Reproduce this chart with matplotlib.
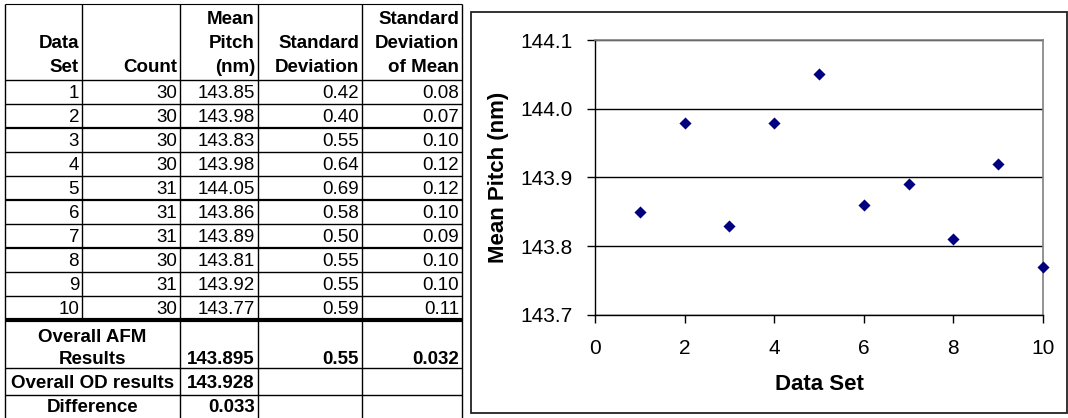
import matplotlib
matplotlib.use("Agg")
import matplotlib.pyplot as plt
from matplotlib.lines import Line2D

plt.rcParams['font.family'] = ['Liberation Sans', 'DejaVu Sans']

# ---------------- data ----------------
data_set = [1, 2, 3, 4, 5, 6, 7, 8, 9, 10]
count = [30, 30, 30, 30, 31, 31, 31, 30, 31, 30]
mean_pitch = [143.85, 143.98, 143.83, 143.98, 144.05, 143.86, 143.89, 143.81, 143.92, 143.77]
std_dev = [0.42, 0.40, 0.55, 0.64, 0.69, 0.58, 0.50, 0.55, 0.55, 0.59]
std_dev_mean = [0.08, 0.07, 0.10, 0.12, 0.12, 0.10, 0.09, 0.10, 0.10, 0.11]
header_lines = [
    ["", "Data", "Set"],
    ["", "", "Count"],
    ["Mean", "Pitch", "(nm)"],
    ["", "Standard", "Deviation"],
    ["Standard", "Deviation", "of Mean"],
]
overall_afm = ["143.895", "0.55", "0.032"]
overall_od = "143.928"
difference = "0.033"
y_ticks = [143.7, 143.8, 143.9, 144.0, 144.1]
x_ticks = [0, 2, 4, 6, 8, 10]

W, H = 1068, 418
fig = plt.figure(figsize=(W / 100, H / 100), dpi=100)

# ---------------- table (pixel-space axes) ----------------
tab = fig.add_axes([0, 0, 1, 1])
tab.set_xlim(0, W)
tab.set_ylim(H, 0)
tab.axis('off')

col_x = [5, 82, 180, 258, 362, 462]
top = 4
hdr_bottom = 80
row_h = 24
rows_bottom = hdr_bottom + row_h * len(data_set)
afm_bottom = 368
od_bottom = 395
tab_bottom = 420
fs = 13.5
pad = 3

def hline(y, x0, x1, lw=1.0):
    tab.add_line(Line2D([x0, x1], [y, y], color='black', lw=lw, solid_capstyle='butt'))

def vline(x, y0, y1, lw=1.0):
    tab.add_line(Line2D([x, x], [y0, y1], color='black', lw=lw, solid_capstyle='butt'))

# horizontal lines
hline(top, col_x[0], col_x[-1], 0.8)
hline(hdr_bottom, col_x[0], col_x[-1], 1.0)
thick_after = {2: 1.6, 5: 1.6, 7: 1.6}
for i in range(1, len(data_set)):
    hline(hdr_bottom + row_h * i, col_x[0], col_x[-1], thick_after.get(i, 1.0))
hline(rows_bottom, col_x[0], col_x[-1], 3.0)
hline(afm_bottom, col_x[0], col_x[-1], 1.0)
hline(od_bottom, col_x[0], col_x[-1], 1.0)

# vertical lines
for j, x in enumerate(col_x):
    if j == 1:
        vline(x, top, rows_bottom)
    else:
        vline(x, top, tab_bottom)

# header
hdr_y = [20, 43.5, 67]
for j, lines in enumerate(header_lines):
    for k, t in enumerate(lines):
        if t:
            tab.text(col_x[j + 1] - pad, hdr_y[k], t, ha='right', va='center',
                     fontsize=fs, fontweight='bold')

# data rows
for i in range(len(data_set)):
    yc = hdr_bottom + row_h * (i + 0.5) + 1
    vals = [str(data_set[i]), str(count[i]), f"{mean_pitch[i]:.2f}",
            f"{std_dev[i]:.2f}", f"{std_dev_mean[i]:.2f}"]
    for j, v in enumerate(vals):
        tab.text(col_x[j + 1] - pad, yc, v, ha='right', va='center', fontsize=fs)

# summary rows
mid12 = (col_x[0] + col_x[2]) / 2
tab.text(mid12, 338, "Overall AFM", ha='center', va='center', fontsize=fs, fontweight='bold')
tab.text(mid12, 359.5, "Results", ha='center', va='center', fontsize=fs, fontweight='bold')
for j, v in enumerate(overall_afm):
    tab.text(col_x[j + 3] - pad, 359.5, v, ha='right', va='center', fontsize=fs, fontweight='bold')
tab.text(mid12, 383, "Overall OD results", ha='center', va='center', fontsize=fs, fontweight='bold')
tab.text(col_x[3] - pad, 383, overall_od, ha='right', va='center', fontsize=fs, fontweight='bold')
tab.text(mid12, 408, "Difference", ha='center', va='center', fontsize=fs, fontweight='bold')
tab.text(col_x[3] - pad, 408, difference, ha='right', va='center', fontsize=fs, fontweight='bold')

# chart frame
tab.add_patch(plt.Rectangle((471, 12), 1067 - 471, 413 - 12, fill=False,
                            edgecolor='#222222', lw=1.3))

# ---------------- scatter chart ----------------
L, R, T, B = 595, 1043, 40, 315
ax = fig.add_axes([L / W, 1 - B / H, (R - L) / W, (B - T) / H])
ax.scatter(data_set, mean_pitch, marker='D', s=38, color='#000080', zorder=3,
           linewidths=0, clip_on=False)
ax.set_xlim(0, 10)
ax.set_ylim(143.7, 144.1)
ax.set_xticks(x_ticks)
ax.set_yticks(y_ticks)
ax.set_yticklabels([f"{v:.1f}" for v in y_ticks])
ax.yaxis.grid(True, color='black', lw=1.0)
ax.set_axisbelow(True)
for s in ['top', 'right']:
    ax.spines[s].set_color('#808080')
    ax.spines[s].set_linewidth(1.2)
for s in ['left', 'bottom']:
    ax.spines[s].set_color('black')
    ax.spines[s].set_linewidth(1.0)
ax.tick_params(direction='out', length=6, width=1, labelsize=15)
ax.tick_params(axis='x', pad=11)
ax.tick_params(axis='y', pad=10)
ax.set_xlabel("Data Set", fontsize=16, fontweight='bold', labelpad=12)
ax.set_ylabel("Mean Pitch (nm)", fontsize=16, fontweight='bold', labelpad=8)

fig.savefig("out.png", dpi=100)
